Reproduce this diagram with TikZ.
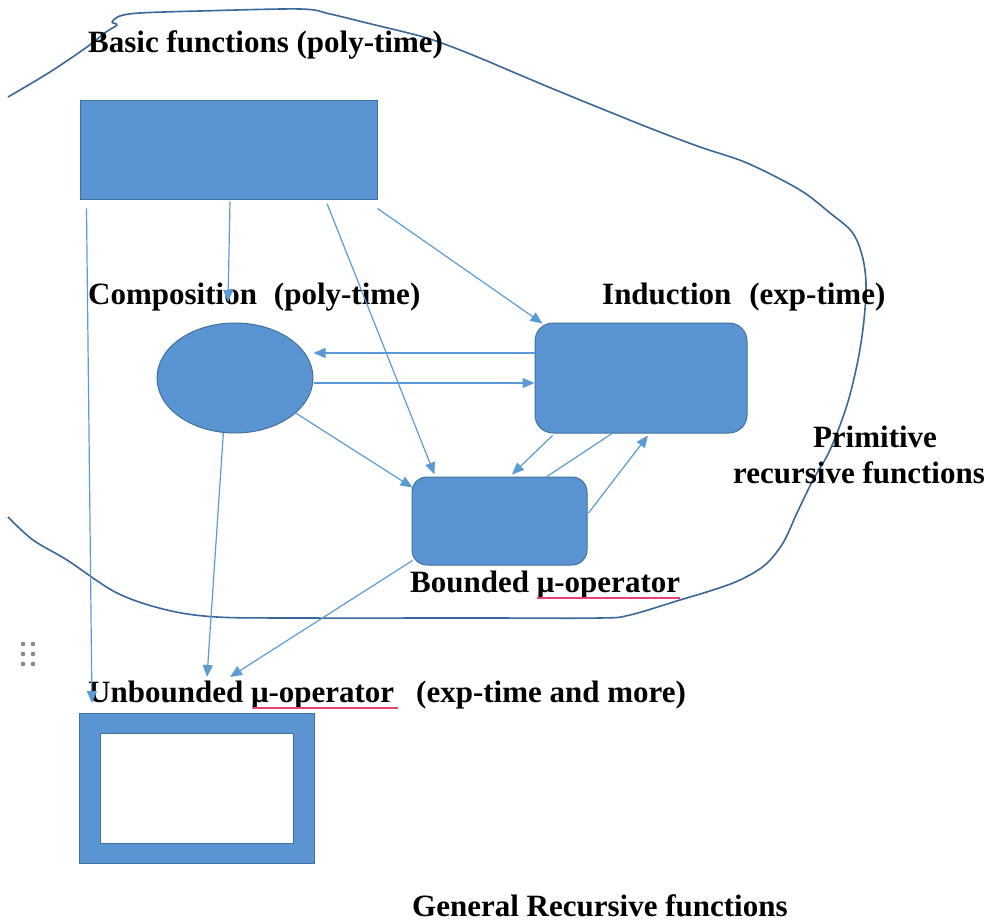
\documentclass[tikz,border=0pt]{standalone}
\usepackage{fontspec}
\setmainfont{Liberation Serif}
\usetikzlibrary{arrows.meta,shapes.geometric,calc}
\definecolor{shapefill}{HTML}{5A94D3}
\definecolor{shapeline}{HTML}{41719C}
\definecolor{arrowcol}{HTML}{5B9BD5}
\definecolor{blobcol}{HTML}{3A6798}
\definecolor{spellred}{HTML}{E8426E}
\definecolor{dotgray}{HTML}{8A8A8A}
\begin{document}
\begin{tikzpicture}[x=1pt,y=-1pt,
  blueshape/.style={fill=shapefill, draw=shapeline, line width=1pt, inner sep=0pt},
  lbl/.style={font=\bfseries\fontsize{31}{36}\selectfont, inner sep=0pt, anchor=base west},
  conn/.style={draw=arrowcol, line width=1.2pt, -{Triangle[length=12pt,width=10pt]}},
  plainconn/.style={draw=arrowcol, line width=1.2pt},
  spell/.style={draw=spellred, line width=1.5pt}]
\useasboundingbox (0,0) rectangle (989,923);

% enclosing hand-drawn curve
\draw[blobcol, line width=1.6pt, line join=round] plot[smooth, tension=0.55] coordinates {
 (8,97) (50,72) (87,47) (106,32) (117,25) (112,22) (120,16) (140,13) (200,11) (300,9)
 (330,14) (367,23) (420,36) (447,45) (480,58) (520,75) (563,93) (647,127) (700,147)
 (747,163) (800,190) (830,213) (852,232) (862,255) (866,283) (864,320) (858,360)
 (847,405) (830,450) (813,480) (797,513) (783,543) (765,565) (740,580) (713,590)
 (680,600) (630,615) (600,618) (480,618) (300,618) (217,617) (167,610) (117,593)
 (67,560) (33,540) (8,517)};

% shapes
\node[blueshape, rectangle, minimum width=297pt, minimum height=99pt] (basic) at (228.5,150.5) {};
\node[blueshape, ellipse, minimum width=156pt, minimum height=110pt] (ell) at (235,378) {};
\node[blueshape, rectangle, rounded corners=18pt, minimum width=212pt, minimum height=110pt] (ind) at (641,378) {};
\node[blueshape, rectangle, rounded corners=15pt, minimum width=175pt, minimum height=88pt] (bnd) at (499.5,521) {};
\node[blueshape, rectangle, minimum width=235pt, minimum height=150pt] (ubox) at (196.5,788) {};
\node[rectangle, fill=white, draw=shapeline, line width=1pt, inner sep=0pt, minimum width=193pt, minimum height=110pt] (uinner) at (196.5,788) {};

% labels
\node[lbl] (basiclbl) at (88,53) {Basic functions (poly-time)};
\node[lbl] (comp) at (88,305) {Composition\hspace{17pt}(poly-time)};
\node[lbl] (indlbl) at (602,305) {Induction\hspace{18pt}(exp-time)};
\node[lbl] (bndlbl) at (410,592) {Bounded μ-operator};
\node[lbl] (unb) at (88,702) {Unbounded μ-operator\hspace{22pt}(exp-time and more)};
\node[lbl] (gen) at (412,916) {General Recursive functions};
\node[font=\bfseries\fontsize{31}{36}\selectfont, inner sep=0pt, align=center] (prim) at (859,455) {\hspace*{32pt}Primitive\\recursive functions};

% spelling underlines
\draw[spell] (537,598) -- (680,598);
\draw[spell] (253,708) -- (398,708);

% drag handle dots
\foreach \dx in {23,33} \foreach \dy in {644,654,664} \fill[dotgray] (\dx,\dy) circle (2.3pt);

% free ends
\coordinate (unbA) at ($(unb.base west)+(4,1)$);
\coordinate (unbB) at ($(unb.base west)+(119,-25)$);
\coordinate (unbC) at ($(unb.base west)+(142,-25)$);
\coordinate (compin) at ($(comp.base west)+(140,-3)$);

% connectors
\draw[conn] ($(basic.south west)+(7,8)$) -- (unbA);
\draw[conn] ($(basic.south)+(1.5,1)$) -- (compin);
\draw[conn] ($(basic.south)+(98.5,3)$) -- ($(bnd.north west)+(23,-2)$);
\draw[conn] ($(basic.south east)+(0,8)$) -- ($(ind.north west)+(8,1)$);
\draw[conn] ($(ind.west)+(0,-25)$) -- ($(ell.east)+(0,-25)$);
\draw[conn] ($(ell.east)+(0,5)$) -- ($(ind.west)+(0,5)$);
\draw[conn] (ell.-30) -- ($(bnd.north west)+(1,11)$);
\draw[conn] ($(ind.south west)+(18,2)$) -- ($(bnd.north)+(12.5,-2)$);
\draw[plainconn] ($(bnd.north)+(47.5,0)$) -- ($(ind.south)+(-29,0)$);
\draw[conn] ($(bnd.east)+(1,-8)$) -- ($(ind.south)+(7,2)$);
\draw[conn] (ell.-102) -- (unbB);
\draw[conn] ($(bnd.south west)+(1,-5)$) -- (unbC);
\end{tikzpicture}
\end{document}
